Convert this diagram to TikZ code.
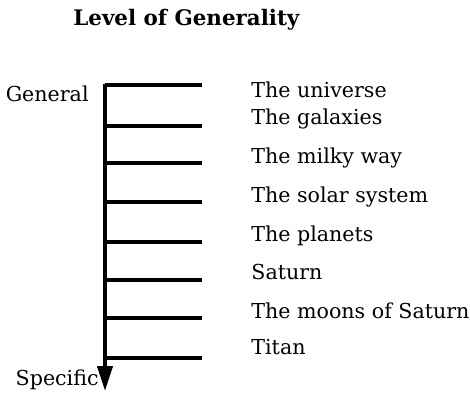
\documentclass[tikz,border=0pt]{standalone}
\usepackage{fontspec}
\setmainfont{DejaVu Serif}
\usepackage{tikz}
\usepackage{xcolor}
\usetikzlibrary{arrows.meta, positioning, calc}
\definecolor{InkBlack}{HTML}{000000}
\definecolor{PaperWhite}{HTML}{FFFFFF}
\tikzset{
    title/.style={
        text=InkBlack,
        font=\fontsize{10.7}{13}\selectfont\bfseries,
        inner sep=0pt,
        anchor=base west
    },
    level/.style={
        text=InkBlack,
        font=\fontsize{10.3}{12}\selectfont,
        inner sep=0pt,
        anchor=base west
    },
    endlabel/.style={
        text=InkBlack,
        font=\fontsize{10.3}{12}\selectfont,
        inner sep=0pt,
        anchor=base east
    },
    axis/.style={
        -{Triangle[length=12.5pt, width=7.5pt]},
        line width=1.9pt,
        InkBlack
    },
    rung/.style={
        line width=1.7pt,
        InkBlack
    }
}
\begin{document}
\begin{tikzpicture}[x=0.5pt, y=-0.5pt]
        % Frame
        \useasboundingbox[fill=PaperWhite] (0,0) rectangle (470,398);

        % Title
        \node[title] (heading) at (73,25) {Level of Generality};

        % Axis
        \coordinate (top) at (105,84);
        \coordinate (bottom) at (105,391);
        \draw[axis] (top) -- (bottom);
        \node[endlabel] (general) at (89,101) {General};
        \node[endlabel] (specific) at (99,385) {Specific};

        % Rungs
        \coordinate (r1) at (202,85);
        \coordinate (r2) at (202,126);
        \coordinate (r3) at (202,163);
        \coordinate (r4) at (202,202);
        \coordinate (r5) at (202,242);
        \coordinate (r6) at (202,280);
        \coordinate (r7) at (202,318);
        \coordinate (r8) at (202,358);
        \draw[rung] (r1 -| top) -- (r1);
        \draw[rung] (r2 -| top) -- (r2);
        \draw[rung] (r3 -| top) -- (r3);
        \draw[rung] (r4 -| top) -- (r4);
        \draw[rung] (r5 -| top) -- (r5);
        \draw[rung] (r6 -| top) -- (r6);
        \draw[rung] (r7 -| top) -- (r7);
        \draw[rung] (r8 -| top) -- (r8);

        % Levels
        \node[level] (universe) at (251,97) {The universe};
        \node[level] (galaxies) at (251,124) {The galaxies};
        \node[level] (milkyway) at (251,163) {The milky way};
        \node[level] (solar) at (251,202) {The solar system};
        \node[level] (planets) at (251,241) {The planets};
        \node[level] (saturn) at (251,279) {Saturn};
        \node[level] (moons) at (251,318) {The moons of Saturn};
        \node[level] (titan) at (251,354) {Titan};
    \end{tikzpicture}
\end{document}
